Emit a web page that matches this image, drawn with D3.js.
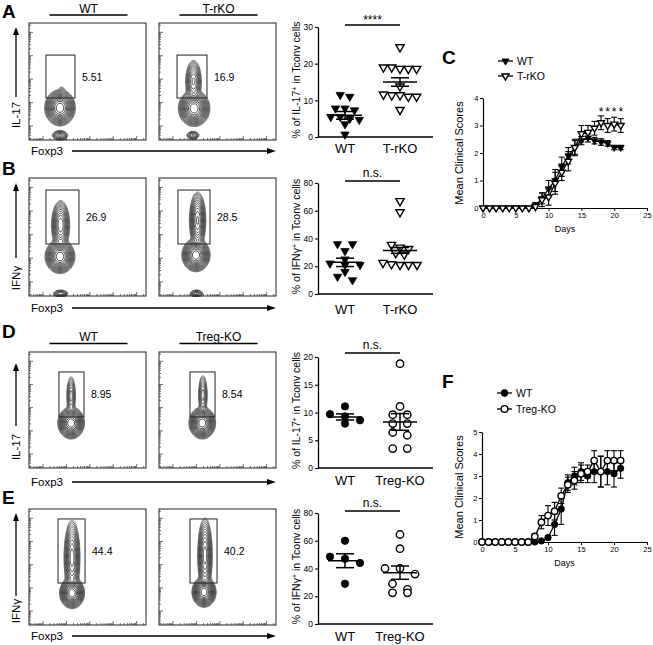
<!DOCTYPE html>
<html><head><meta charset="utf-8">
<script src="https://cdn.jsdelivr.net/npm/d3@7"></script>
<style>body{margin:0;background:#fff}svg{display:block}</style>
</head><body>
<svg id="fig" width="653" height="645"></svg>
<script>
// ================= DATA =================
const headersTop = ["WT", "T-rKO"];
const headersBottom = ["WT", "Treg-KO"];
const gateFreqA = ["5.51", "16.9"];
const gateFreqB = ["26.9", "28.5"];
const gateFreqD = ["8.95", "8.54"];
const gateFreqE = ["44.4", "40.2"];
// gates in flow units (0-100 log display): [x0, x1, y0, y1]
const gatesA = [[14.5, 39.3, 35.9, 72.6], [15.4, 41.0, 35.9, 72.6]];
const gatesB = [[14.5, 42.7, 44.1, 89.8], [16.2, 43.6, 44.1, 89.8]];
const gatesD = [[25.6, 47.0, 44.0, 82.8], [26.5, 47.9, 44.0, 82.8]];
const gatesE = [[24.8, 47.9, 36.2, 91.4], [26.5, 49.6, 36.2, 91.4]];
// cell populations (Gaussian clusters in flow units): [cx, cy, sx, sy, weight]
const popsA = [
  [[26.5, 27.5, 3.8, 4.5, 1], [26.5, 4, 2.6, 1.6, 0.06], [28, 39, 1.5, 3.5, 0.012]],
  [[30, 27, 3.9, 4.5, 1], [29.5, 50, 2.4, 6.5, 0.12], [29, 4, 2.2, 1.4, 0.04]]
];
const popsB = [
  [[26.5, 33.5, 3.7, 4.2, 1], [27, 60, 2.6, 7, 0.22], [27, 2, 2.5, 1.2, 0.05]],
  [[31.6, 34.7, 3.5, 4.1, 1], [33, 64, 2.3, 8, 0.25], [32, 2, 2.2, 1.2, 0.05]]
];
const popsD = [
  [[36, 38.8, 3.3, 4.0, 1], [36, 62, 1.5, 7, 0.045]],
  [[37, 38.8, 3.3, 4.0, 1], [37.5, 63, 1.5, 7, 0.045]]
];
const popsE = [
  [[36.8, 27.6, 3.1, 3.9, 1], [36.8, 58, 2.3, 11, 0.2]],
  [[38.5, 28.4, 3.0, 3.8, 1], [39.3, 60, 2.1, 11, 0.2]]
];

// scatter panels
const scatterTicksIL17A = [0, 10, 20, 30];
const scatterTicks80 = [0, 20, 40, 60, 80];
const scatterTicks20 = [0, 5, 10, 15, 20];
const il17_T_WT = [11.5, 11.0, 7.8, 7.8, 7.3, 5.5, 5.5, 5.0, 4.7, 3.5, 0.7];
const il17_T_KO = [24.5, 19.0, 19.0, 18.6, 18.6, 18.6, 13.8, 11.6, 11.4, 11.4, 11.0, 11.0, 7.4];
const il17_T_mean = [5.9, 15.0], il17_T_sem = [1.05, 1.15];
const ifng_T_WT = [36, 36, 31, 25, 22, 21, 21, 16, 12.5, 10];
const ifng_T_KO = [67, 59, 35.5, 33.5, 32.5, 29.5, 28.5, 22.5, 21.5, 21, 21, 21];
const ifng_T_mean = [22.8, 31.4], ifng_T_sem = [3.0, 2.1];
const il17_R_WT = [11.1, 9.7, 9.3, 8.6, 8.0];
const il17_R_KO = [18.8, 11.1, 9.6, 9.6, 8.0, 8.0, 6.4, 5.9, 3.5, 3.5];
const il17_R_mean = [9.2, 8.3], il17_R_sem = [0.55, 1.5];
const ifng_R_WT = [60, 48.5, 47, 44, 29];
const ifng_R_KO = [64.5, 54.3, 40, 40, 36, 29, 25, 22.5, 22.5];
const ifng_R_mean = [45.6, 37.0], ifng_R_sem = [5.0, 4.8];

// clinical score time courses
const days = [0,1,2,3,4,5,6,7,8,9,10,11,12,13,14,15,16,17,18,19,20,21];
const dayTicks = [0, 5, 10, 15, 20, 25];
const cWT    = [0,0,0,0,0,0,0,0,0.1,0.35,0.7,1.0,1.5,1.9,2.2,2.45,2.55,2.45,2.4,2.35,2.2,2.2];
const cWTerr = [0,0,0,0,0,0,0,0,0.1,0.2,0.3,0.4,0.35,0.3,0.25,0.15,0.15,0.12,0.12,0.1,0.08,0.08];
const cKO    = [0,0,0,0,0,0,0,0,0.05,0.3,0.4,0.9,1.3,1.7,2.2,2.7,2.75,2.9,3.1,3.0,3.05,3.0];
const cKOerr = [0,0,0,0,0,0,0,0,0.05,0.25,0.3,0.4,0.3,0.35,0.3,0.3,0.25,0.25,0.25,0.25,0.25,0.25];
const cStarDays = [18, 19, 20, 21];
const fWT    = [0,0,0,0,0,0,0,0,0,0.05,0.2,0.8,1.5,2.7,3.0,3.2,3.0,3.2,3.2,3.2,3.1,3.35];
const fWTerr = [0,0,0,0,0,0,0,0,0,0.05,0.1,0.5,0.7,0.35,0.4,0.4,0.3,0.5,0.7,0.6,0.6,0.45];
const fKO    = [0,0,0,0,0,0,0,0,0.25,0.9,1.2,1.4,2.1,2.6,2.8,3.1,3.2,3.7,3.2,3.7,3.7,3.7];
const fKOerr = [0,0,0,0,0,0,0,0,0.1,0.3,0.45,0.4,0.35,0.35,0.4,0.4,0.3,0.45,0.7,0.45,0.45,0.45];

// ================= DRAWING =================
const FF = 'Arial, "Liberation Sans", Helvetica, sans-serif';
const svg = d3.select("#fig").attr("font-family", FF);
svg.append("rect").attr("width", 653).attr("height", 645).attr("fill", "#fff");

function text(x, y, s, size, opts = {}) {
  const t = svg.append("text").attr("x", x).attr("y", y).attr("font-size", size)
    .attr("fill", "#000").attr("text-anchor", opts.anchor || "start")
    .attr("font-weight", opts.bold ? "bold" : "normal").text(s);
  if (opts.rotate) t.attr("transform", `rotate(-90,${x},${y})`);
  return t;
}

// panel letters
[["A", 2, 18], ["B", 2, 175], ["C", 442, 64], ["D", 2, 338], ["E", 2, 504], ["F", 442, 388]]
  .forEach(([l, x, y]) => text(x, y, l, 19, { bold: true }));

// -------- flow plots --------
const flowCols = [29, 159];
const FLOW_W = 117;
const GRID = 100;
function logTicks() {
  const out = [];
  [-8, 12, 32, 52, 72, 92].forEach(m => {
    if (m >= 0) out.push([m, 4]);
    [2,3,4,5,6,7,8,9].forEach(k => { const p = m + 20 * Math.log10(k); if (p > 0.5 && p < 99.5) out.push([p, 2]); });
  });
  return out;
}
function drawFlow(left, top, h, freq, gate, pops) {
  const x = d3.scaleLinear([0, 100], [left, left + FLOW_W]);
  const y = d3.scaleLinear([0, 100], [top + h, top]);
  const g = svg.append("g");
  const vals = new Float64Array(GRID * GRID);
  for (let j = 0; j < GRID; j++) {
    const uy = 100 - (j + 0.5) * 100 / GRID;
    for (let i = 0; i < GRID; i++) {
      const ux = (i + 0.5) * 100 / GRID;
      let v = 0;
      pops.forEach(([cx, cy, sx, sy, w]) => {
        v += w * Math.exp(-0.5 * (((ux - cx) / sx) ** 2 + ((uy - cy) / sy) ** 2));
      });
      vals[j * GRID + i] = v;
    }
  }
  const mx = d3.max(vals);
  const ths = d3.range(1, 17).map(k => mx * Math.pow(0.69, k));
  const cont = d3.contours().size([GRID, GRID]).smooth(true).thresholds(ths)(vals);
  const cg = g.append("g").attr("transform", `translate(${left},${top}) scale(${FLOW_W / GRID},${h / GRID})`);
  cg.selectAll("path").data(cont).join("path")
    .attr("d", d3.geoPath()).attr("fill", "none")
    .attr("stroke", (d, i) => d3.interpolateRgb("#5a5a5a", "#000")(i / ths.length))
    .attr("stroke-width", 0.75).attr("vector-effect", "non-scaling-stroke");
  g.append("rect").attr("x", left).attr("y", top).attr("width", FLOW_W).attr("height", h)
    .attr("fill", "none").attr("stroke", "#222").attr("stroke-width", 1);
  logTicks().forEach(([p, len]) => {
    g.append("line").attr("x1", x(0)).attr("x2", x(0) + len).attr("y1", y(p)).attr("y2", y(p))
      .attr("stroke", "#333").attr("stroke-width", 0.7);
    g.append("line").attr("x1", x(p)).attr("x2", x(p)).attr("y1", y(0)).attr("y2", y(0) - len)
      .attr("stroke", "#333").attr("stroke-width", 0.7);
  });
  g.append("rect").attr("x", x(gate[0])).attr("y", y(gate[3]))
    .attr("width", x(gate[1]) - x(gate[0])).attr("height", y(gate[2]) - y(gate[3]))
    .attr("fill", "none").attr("stroke", "#222").attr("stroke-width", 1);
  text(x(gate[1]) + 7, (y(gate[2]) + y(gate[3])) / 2 + 4, freq, 10.5);
}
function arrowUp(x, yTop, yBot) {
  svg.append("line").attr("x1", x).attr("x2", x).attr("y1", yTop + 6).attr("y2", yBot)
    .attr("stroke", "#000").attr("stroke-width", 1.3);
  svg.append("path").attr("d", `M${x},${yTop} L${x - 3},${yTop + 8} L${x + 3},${yTop + 8} Z`).attr("fill", "#000");
}
function foxp3(y) {
  text(31, y + 4, "Foxp3", 11.5);
  svg.append("line").attr("x1", 72).attr("x2", 268).attr("y1", y).attr("y2", y)
    .attr("stroke", "#000").attr("stroke-width", 1.3);
  svg.append("path").attr("d", `M276,${y} L267,${y - 3} L267,${y + 3} Z`).attr("fill", "#000");
}
function headers(names, ulY) {
  names.forEach((n, i) => {
    const c = flowCols[i] + FLOW_W / 2 + 1;
    text(c, ulY - 2.5, n, 12, { anchor: "middle" });
    svg.append("line").attr("x1", c - 39).attr("x2", c + 39).attr("y1", ulY).attr("y2", ulY)
      .attr("stroke", "#000").attr("stroke-width", 1.3);
  });
}
function flowRow(top, h, freqs, gates, pops, ylab, arrow, ylabC, foxY) {
  flowCols.forEach((l, i) => drawFlow(l, top, h, freqs[i], gates[i], pops[i]));
  arrowUp(16, arrow[0], arrow[1]);
  text(20, ylabC, ylab, 11.5, { anchor: "middle", rotate: true });
  foxp3(foxY);
}
headers(headersTop, 15);
headers(headersBottom, 343.5);
flowRow(23, 117, gateFreqA, gatesA, popsA, "IL-17", [27, 97], 115, 151);
flowRow(178, 118, gateFreqB, gatesB, popsB, "IFNγ", [183, 258], 278, 308);
flowRow(352, 116, gateFreqD, gatesD, popsD, "IL-17", [363, 426], 447, 482);
flowRow(509, 116, gateFreqE, gatesE, popsE, "IFNγ", [513, 596], 611, 636);

// -------- scatter (dot) plots --------
function swarm(values, y, d, thr) {
  const idx = values.map((v, i) => i).sort((a, b) => values[b] - values[a]);
  const rows = []; let cur = null;
  idx.forEach(i => {
    const py = y(values[i]);
    if (cur && Math.abs(py - cur.py) < thr) cur.items.push(i);
    else { cur = { py, items: [i] }; rows.push(cur); }
  });
  const off = new Array(values.length);
  rows.forEach(r => r.items.forEach((i, k) => off[i] = (k - (r.items.length - 1) / 2) * d));
  return off;
}
function marker(g, cx, cy, shape, filled, size) {
  let m;
  if (shape === "tri") {
    m = g.append("path").attr("d", d3.symbol(d3.symbolTriangle, size)())
      .attr("transform", `translate(${cx},${cy}) rotate(180)`);
  } else {
    m = g.append("circle").attr("cx", cx).attr("cy", cy).attr("r", size);
  }
  m.attr("fill", filled ? "#000" : "#fff").attr("stroke", "#000").attr("stroke-width", filled ? 0.8 : 1.4);
}
function scatter(cfg) {
  const y = d3.scaleLinear(cfg.domain, [cfg.yBot, cfg.yTop]);
  const x = d3.scalePoint(cfg.groups, [345, 400]);
  const g = svg.append("g");
  const ax = g.append("g").attr("transform", "translate(318,0)")
    .call(d3.axisLeft(y).tickValues(cfg.ticks).tickSize(3).tickSizeOuter(0).tickPadding(2));
  ax.select(".domain").attr("stroke", "#000").attr("stroke-width", 1.3);
  ax.selectAll(".tick line").attr("stroke", "#000").attr("stroke-width", 1.1);
  ax.selectAll(".tick text").attr("font-size", 8.5).attr("font-family", FF).attr("fill", "#000");
  g.append("line").attr("x1", 318).attr("x2", 433).attr("y1", cfg.yBot).attr("y2", cfg.yBot)
    .attr("stroke", "#000").attr("stroke-width", 1.3);
  cfg.series.forEach((vals, si) => {
    const off = swarm(vals, y, cfg.spacing[si], cfg.rowThr[si]);
    vals.forEach((v, i) => marker(g, x(cfg.groups[si]) + off[i], y(v), cfg.shape, si === 0, cfg.shape === "tri" ? 30 : 3.7));
    const cx = x(cfg.groups[si]), m = cfg.mean[si], s = cfg.sem[si];
    const ln = (x1, y1, x2, y2) => g.append("line").attr("x1", x1).attr("y1", y1).attr("x2", x2).attr("y2", y2)
      .attr("stroke", "#000").attr("stroke-width", 1.5);
    ln(cx - 17, y(m), cx + 17, y(m));
    ln(cx, y(m - s), cx, y(m + s));
    ln(cx - 9, y(m - s), cx + 9, y(m - s));
    ln(cx - 9, y(m + s), cx + 9, y(m + s));
    text(cx, cfg.yBot + cfg.labOff, cfg.groups[si], 13, { anchor: "middle" });
  });
  g.append("line").attr("x1", 345).attr("x2", 400).attr("y1", cfg.sigY).attr("y2", cfg.sigY)
    .attr("stroke", "#000").attr("stroke-width", 1.3);
  text(372.5, cfg.sigY - (cfg.sig === "n.s." ? 4 : 1), cfg.sig, 12, { anchor: "middle" });
  const lt = svg.append("text").attr("font-size", 10.5).attr("text-anchor", "middle")
    .attr("transform", `translate(300,${(cfg.yTop + cfg.yBot) / 2 - 2}) rotate(-90)`);
  lt.append("tspan").text(cfg.label[0]);
  lt.append("tspan").attr("baseline-shift", "super").attr("font-size", 7).text("+");
  lt.append("tspan").text(cfg.label[1]);
}
scatter({ domain: [0, 30], yTop: 27, yBot: 137, ticks: scatterTicksIL17A, groups: headersTop,
  series: [il17_T_WT, il17_T_KO], mean: il17_T_mean, sem: il17_T_sem, shape: "tri", rowThr: [6.5, 6.5],
  spacing: [9.5, 8.3], sig: "****", sigY: 25, labOff: 16, label: ["% of IL-17", " in Tconv cells"] });
scatter({ domain: [0, 80], yTop: 183, yBot: 294, ticks: scatterTicks80, groups: headersTop,
  series: [ifng_T_WT, ifng_T_KO], mean: ifng_T_mean, sem: ifng_T_sem, shape: "tri", rowThr: [4, 6.5],
  spacing: [15, 8.5], sig: "n.s.", sigY: 181, labOff: 20, label: ["% of IFNγ", " in Tconv cells"] });
scatter({ domain: [0, 20], yTop: 357, yBot: 468, ticks: scatterTicks20, groups: headersBottom,
  series: [il17_R_WT, il17_R_KO], mean: il17_R_mean, sem: il17_R_sem, shape: "circle", rowThr: [6.5, 6.5],
  spacing: [15, 14.5], sig: "n.s.", sigY: 353, labOff: 17, label: ["% of IL-17", " in Tconv cells"] });
scatter({ domain: [0, 80], yTop: 513, yBot: 624, ticks: scatterTicks80, groups: headersBottom,
  series: [ifng_R_WT, ifng_R_KO], mean: ifng_R_mean, sem: ifng_R_sem, shape: "circle", rowThr: [6.5, 6.5],
  spacing: [15, 15], sig: "n.s.", sigY: 511, labOff: 17, label: ["% of IFNγ", " in Tconv cells"] });

// -------- clinical score time courses --------
function course(cfg) {
  const x = d3.scaleLinear([0, 25], [cfg.x0, cfg.x1]);
  const y = d3.scaleLinear([0, cfg.ymax], [cfg.yb, cfg.yt]);
  const g = svg.append("g");
  const ay = g.append("g").attr("transform", `translate(${cfg.x0},0)`)
    .call(d3.axisLeft(y).ticks(cfg.ymax).tickSize(3).tickSizeOuter(0).tickPadding(1.5));
  const ax = g.append("g").attr("transform", `translate(0,${cfg.yb})`)
    .call(d3.axisBottom(x).tickValues(dayTicks).tickSize(3).tickSizeOuter(0).tickPadding(2));
  [ax, ay].forEach(a => {
    a.select(".domain").attr("stroke", "#000").attr("stroke-width", 1.2);
    a.selectAll(".tick line").attr("stroke", "#000");
    a.selectAll(".tick text").attr("font-size", 7.5).attr("font-family", FF).attr("fill", "#000");
  });
  cfg.series.forEach((s, si) => {
    s.err.forEach((e, i) => {
      if (e <= 0) return;
      const cx = x(days[i]);
      const l = (x1, y1, x2, y2) => g.append("line").attr("x1", x1).attr("y1", y1).attr("x2", x2).attr("y2", y2)
        .attr("stroke", "#000").attr("stroke-width", 1.1);
      l(cx, y(Math.max(0, s.v[i] - e)), cx, y(s.v[i] + e));
      l(cx - 3, y(s.v[i] + e), cx + 3, y(s.v[i] + e));
      if (s.v[i] - e > 0) l(cx - 3, y(s.v[i] - e), cx + 3, y(s.v[i] - e));
    });
    g.append("path").datum(s.v).attr("fill", "none").attr("stroke", "#000").attr("stroke-width", 1.3)
      .attr("d", d3.line().x((d, i) => x(days[i])).y(d => y(d)));
    s.v.forEach((v, i) => marker(g, x(days[i]), y(v), cfg.shape, si === 0, cfg.shape === "tri" ? 20 : 3.2));
    const ly = cfg.legY[si];
    g.append("line").attr("x1", cfg.legX).attr("x2", cfg.legX + 15).attr("y1", ly).attr("y2", ly)
      .attr("stroke", "#000").attr("stroke-width", 1.3);
    marker(g, cfg.legX + 7.5, ly, cfg.shape, si === 0, cfg.shape === "tri" ? 22 : 3.4);
    text(cfg.legX + 19, ly + 4, cfg.names[si], 10.5);
  });
  text(463, (cfg.yt + cfg.yb) / 2, "Mean Clinical Scores", 11, { anchor: "middle", rotate: true });
  text((cfg.x0 + cfg.x1) / 2, cfg.yb + 24, "Days", 9, { anchor: "middle" });
  return { x, y };
}
const cs = course({ x0: 483, x1: 647, yb: 208, yt: 98, ymax: 4, shape: "tri",
  series: [{ v: cWT, err: cWTerr }, { v: cKO, err: cKOerr }], names: headersTop, legX: 498, legY: [61, 76] });
cStarDays.forEach(d => text(cs.x(d), 116, "*", 12, { anchor: "middle" }));
course({ x0: 482, x1: 647, yb: 542, yt: 432, ymax: 5, shape: "circle",
  series: [{ v: fWT, err: fWTerr }, { v: fKO, err: fKOerr }], names: headersBottom, legX: 497, legY: [393, 409] });
</script>
</body></html>
